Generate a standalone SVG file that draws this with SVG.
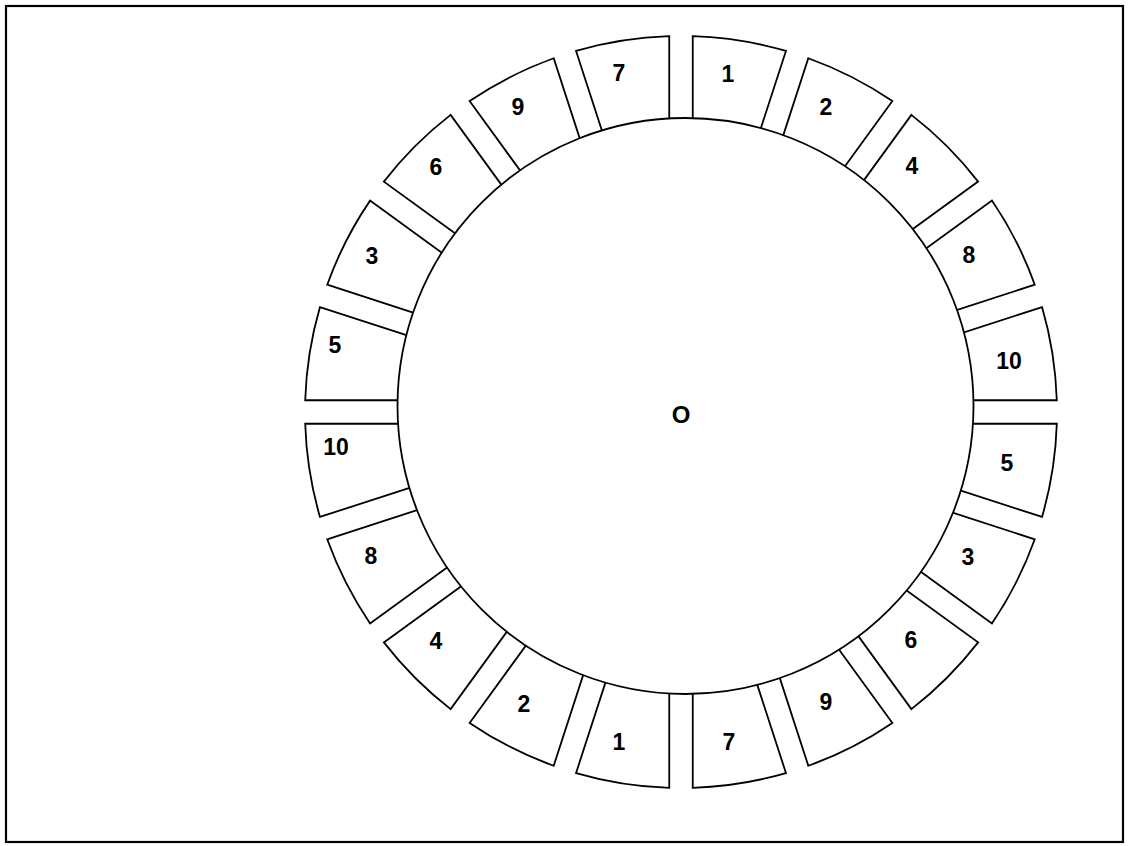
<svg xmlns="http://www.w3.org/2000/svg" xmlns:xlink="http://www.w3.org/1999/xlink" width="1128" height="846" viewBox="0 0 1128 846">
<style>
.seg{fill:#fff;stroke:#000;stroke-width:1.8;stroke-linejoin:miter}
.lbl{font-family:"Liberation Sans",Arial,sans-serif;font-weight:bold;font-size:23px;fill:#000;text-anchor:middle}
.hub{fill:#fff;stroke:#000;stroke-width:1.8}
</style>
<defs>
<path id="seg" d="M 11.75 -250 L 11.75 -375.8 A 376 376 0 0 1 104.95 -361.04 L 66.08 -241.4"/>
</defs>
<rect x="0" y="0" width="1128" height="846" fill="#fff"/>
<rect x="6" y="6" width="1117" height="836" fill="none" stroke="#000" stroke-width="2.2"/>
<g id="s0"><use xlink:href="#seg" class="seg" transform="translate(681 412) rotate(0)"/><text class="lbl" x="728" y="82">1</text></g>
<g id="s1"><use xlink:href="#seg" class="seg" transform="translate(681 412) rotate(18)"/><text class="lbl" x="826" y="115">2</text></g>
<g id="s2"><use xlink:href="#seg" class="seg" transform="translate(681 412) rotate(36)"/><text class="lbl" x="912" y="174">4</text></g>
<g id="s3"><use xlink:href="#seg" class="seg" transform="translate(681 412) rotate(54)"/><text class="lbl" x="969" y="263">8</text></g>
<g id="s4"><use xlink:href="#seg" class="seg" transform="translate(681 412) rotate(72)"/><text class="lbl" x="1009" y="369">10</text></g>
<g id="s5"><use xlink:href="#seg" class="seg" transform="translate(681 412) rotate(90)"/><text class="lbl" x="1007" y="471">5</text></g>
<g id="s6"><use xlink:href="#seg" class="seg" transform="translate(681 412) rotate(108)"/><text class="lbl" x="968" y="565">3</text></g>
<g id="s7"><use xlink:href="#seg" class="seg" transform="translate(681 412) rotate(126)"/><text class="lbl" x="911" y="648">6</text></g>
<g id="s8"><use xlink:href="#seg" class="seg" transform="translate(681 412) rotate(144)"/><text class="lbl" x="826" y="710">9</text></g>
<g id="s9"><use xlink:href="#seg" class="seg" transform="translate(681 412) rotate(162)"/><text class="lbl" x="729" y="750">7</text></g>
<g id="s10"><use xlink:href="#seg" class="seg" transform="translate(681 412) rotate(180)"/><text class="lbl" x="619" y="750">1</text></g>
<g id="s11"><use xlink:href="#seg" class="seg" transform="translate(681 412) rotate(198)"/><text class="lbl" x="524" y="712">2</text></g>
<g id="s12"><use xlink:href="#seg" class="seg" transform="translate(681 412) rotate(216)"/><text class="lbl" x="436" y="649">4</text></g>
<g id="s13"><use xlink:href="#seg" class="seg" transform="translate(681 412) rotate(234)"/><text class="lbl" x="371" y="564">8</text></g>
<g id="s14"><use xlink:href="#seg" class="seg" transform="translate(681 412) rotate(252)"/><text class="lbl" x="336" y="455">10</text></g>
<g id="s15"><use xlink:href="#seg" class="seg" transform="translate(681 412) rotate(270)"/><text class="lbl" x="335" y="353">5</text></g>
<g id="s16"><use xlink:href="#seg" class="seg" transform="translate(681 412) rotate(288)"/><text class="lbl" x="372" y="264">3</text></g>
<g id="s17"><use xlink:href="#seg" class="seg" transform="translate(681 412) rotate(306)"/><text class="lbl" x="436" y="175">6</text></g>
<g id="s18"><use xlink:href="#seg" class="seg" transform="translate(681 412) rotate(324)"/><text class="lbl" x="518" y="115">9</text></g>
<g id="s19"><use xlink:href="#seg" class="seg" transform="translate(681 412) rotate(342)"/><text class="lbl" x="619" y="81">7</text></g>
<g id="hub"><circle class="hub" cx="685.5" cy="406" r="288"/><text class="lbl" x="681" y="422.5" style="font-size:24px">O</text></g>
</svg>
